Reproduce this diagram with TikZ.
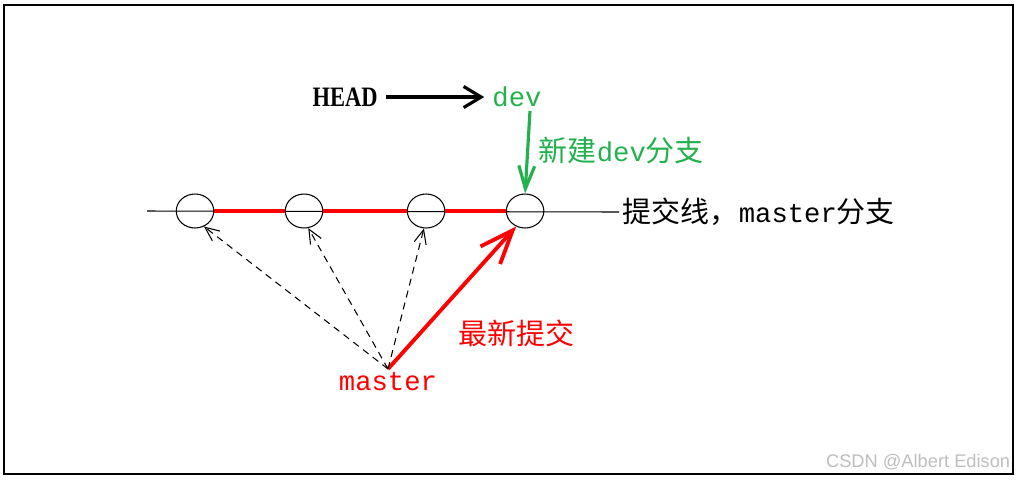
\documentclass[tikz,border=0pt]{standalone}
\usepackage{fontspec}
\setmainfont{Liberation Serif}
\setmonofont{Liberation Mono}
\newfontfamily\cjk{Noto Sans CJK SC}
\newfontfamily\wmfont{Liberation Sans}
\usetikzlibrary{arrows.meta,positioning,shapes.geometric}
\definecolor{gitred}{RGB}{255,0,0}
\definecolor{gitgreen}{RGB}{34,177,76}
\definecolor{wmgray}{RGB}{190,190,190}
\newcommand{\zh}[1]{{\cjk\fontsize{16.5}{20}\selectfont #1}}
\newcommand{\lat}[1]{{\ttfamily\fontsize{15.5}{20}\selectfont #1}}
\tikzset{
    commit/.style={ellipse, draw, line width=0.6pt, minimum width=0.75cm,
                   minimum height=0.68cm, inner sep=0pt},
    lbl/.style={inner sep=2pt, text=#1},
    lbl/.default=black,
    baseln/.style={line width=0.6pt},
    redln/.style={gitred, line width=2pt},
    arr/.style={-{Straight Barb[length=10pt,width=12pt]}, line width=1.8pt,
                shorten <=2.5pt, shorten >=2.5pt},
    garr/.style={-{Straight Barb[length=13pt,width=9pt]}, gitgreen, line width=1.8pt},
    rarr/.style={-{Straight Barb[length=19pt,width=15pt]}, gitred, line width=2.2pt},
    darr/.style={-{Straight Barb[length=8pt,width=7pt]}, line width=0.6pt,
                 dash pattern=on 4pt off 3pt},
}

\begin{document}
\begin{tikzpicture}[x=0.02cm, y=-0.02cm, node distance=0.3cm and 1.41cm]
    \useasboundingbox (0,0) rectangle (1016,481);
    \draw[line width=1pt] (4,5) rectangle (1013,474);

    \node[commit]                  (c1) at (195,211) {};
    \node[commit, right=of c1]     (c2) {};
    \node[commit, right=1.67cm of c2] (c3) {};
    \node[commit, right=1.21cm of c3] (c4) {};

    \coordinate (lineL) at (147,211);
    \node[lbl, anchor=west] (mline) at (619,212) {\zh{提交线，}\lat{master}\zh{分支}};
    \draw[baseln](lineL)--(mline.west);
    \draw[redln](c1)--(c2);
    \draw[redln](c2)--(c3);
    \draw[redln](c3)--(c4);

    \node[lbl, font=\bfseries\fontsize{16}{18}\selectfont] (head) at (345,97) {\scalebox{0.8}[1]{HEAD}};
    \node[lbl=gitgreen]             (dev) at (517,97) {\lat{dev}};
    \node[lbl=gitgreen, anchor=west] (newdev) at (535,150) {\zh{新建}\lat{dev}\zh{分支}};

    \node[lbl=gitred]              (master) at (388,382) {\lat{master}};
    \node[lbl=gitred, anchor=west] (latest) at (455,333) {\zh{最新提交}};

    \node[lbl=wmgray, anchor=east, font=\wmfont\fontsize{10.4}{12}\selectfont] (wm) at (1014,462) {CSDN @Albert Edison};

    \draw[arr](head)--(dev);
    \draw[garr]([xshift=0.26cm]dev.south)--(c4.north);
    \draw[rarr](master.north)--(c4.240);
    \draw[darr](master.north)--(c1.300);
    \draw[darr](master.north)--(c2.284);
    \draw[darr](master.north)--(c3.263);
\end{tikzpicture}
\end{document}
